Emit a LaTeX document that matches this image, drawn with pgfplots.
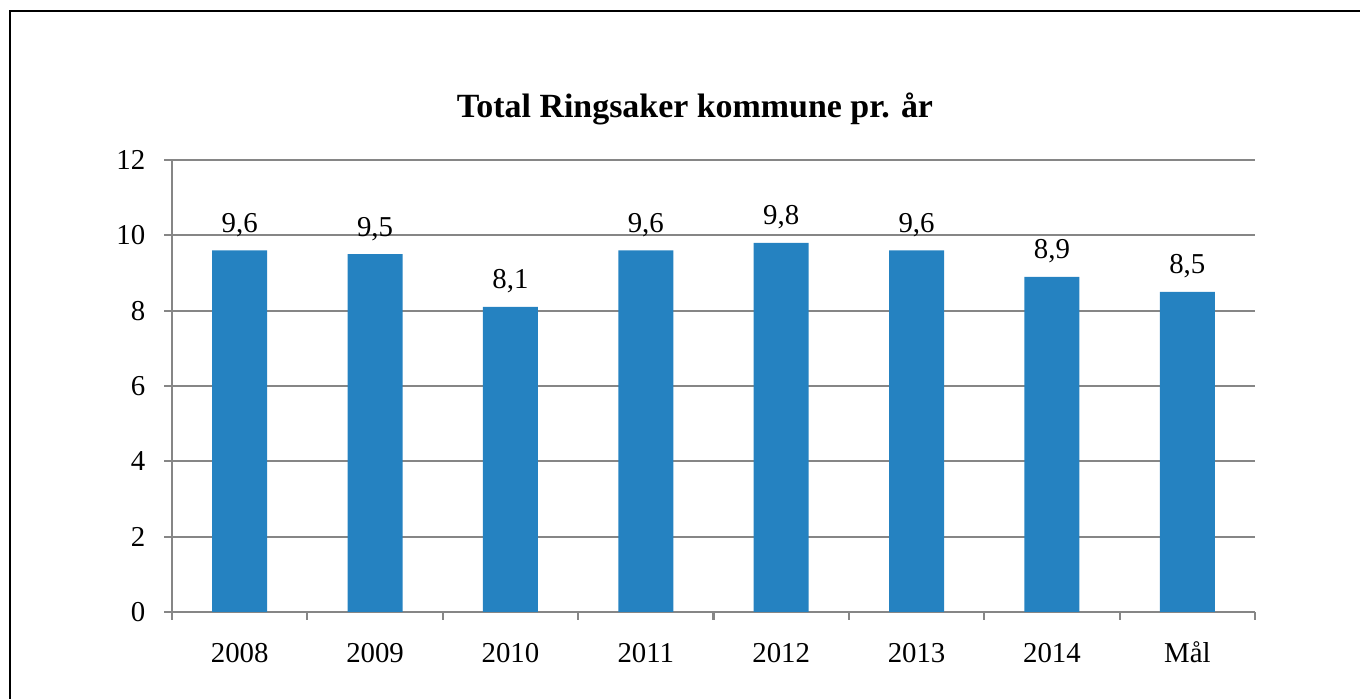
\documentclass[border=0pt]{standalone}
\usepackage{pgfplots}
\pgfplotsset{compat=1.18}
\usepackage{fontspec}
\setmainfont{Liberation Serif}
\definecolor{barblue}{RGB}{37,130,193}
\definecolor{gridgray}{RGB}{134,134,134}

\begin{document}
\begin{tikzpicture}[x=1cm,y=1cm]
\begin{axis}[at={(1.72cm,0.87cm)},anchor=south west,
  scale only axis,width=10.83cm,height=4.52cm,
  ybar,bar width=0.55cm,
  xmin=-0.5,xmax=7.5,ymin=0,ymax=12,
  xtick={-0.5,0.5,...,7.5},
  xticklabels={2008,2009,2010,2011,2012,2013,2014,Mål,{}},
  ytick={0,2,...,12},
  axis x line*=bottom,axis y line*=left,
  axis line style={gridgray,line width=0.6pt,-},
  ymajorgrids,grid style={gridgray,line width=0.6pt},
  tick align=outside,
  major tick length=0.08cm,
  tick style={gridgray,line width=0.6pt},
  x tick label style={font=\fontsize{8.2}{9}\selectfont,anchor=base,inner sep=0pt,yshift=-0.43cm,xshift=0.677cm},
  y tick label style={font=\fontsize{8.2}{9}\selectfont,anchor=east,inner sep=0pt,xshift=-0.18cm},
  /pgf/number format/assume math mode=true,
  nodes near coords,
  nodes near coords style={font=\fontsize{8.2}{9}\selectfont,anchor=base,inner sep=0pt,yshift=0.18cm,
    /pgf/number format/.cd,fixed,fixed zerofill,precision=1,use comma},
]
\addplot[fill=barblue,draw=none] coordinates {(0,9.6)(1,9.5)(2,8.1)(3,9.6)(4,9.8)(5,9.6)(6,8.9)(7,8.5)};
\end{axis}
\node[anchor=base,font=\bfseries\fontsize{9.65}{11}\selectfont] at (6.95,5.81) {Total Ringsaker kommune pr. år};
\draw[black,line width=0.5pt] (0.10,-1) -- (0.10,6.88) -- (14.5,6.88);
\pgfresetboundingbox
\useasboundingbox (0,0) rectangle (13.6,6.99);
\end{tikzpicture}
\end{document}
